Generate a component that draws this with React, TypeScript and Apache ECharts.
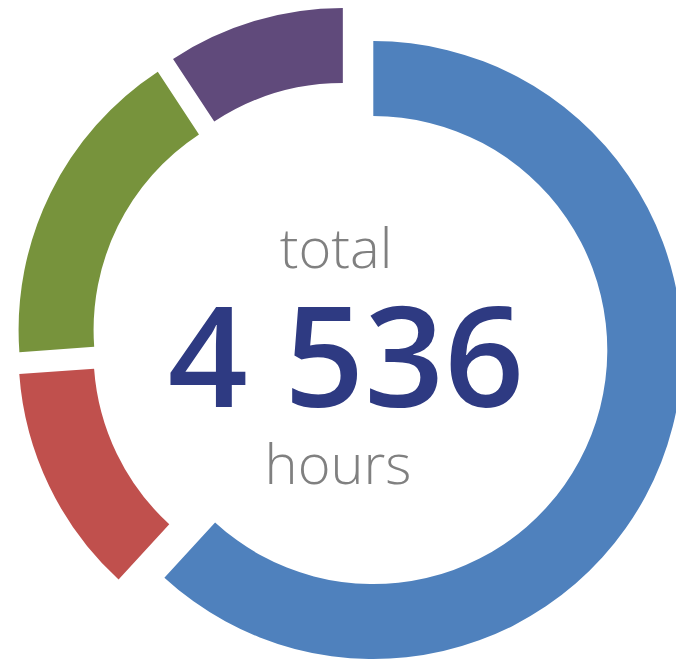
import React, { useEffect, useRef } from "react";
import * as echarts from "echarts";

const categories = ["Blue", "Red", "Green", "Purple"];
const hours = [2804, 546, 766, 420];
const colors = ["#4F81BD", "#C0504D", "#77933C", "#604A7B"];
const totalLabel = "total";
const totalValue = "4 536";
const unitLabel = "hours";

export default function App() {
  const ref = useRef<HTMLDivElement>(null);
  useEffect(() => {
    const chart = echarts.init(ref.current!, undefined, { renderer: "svg" });
    chart.setOption({
      animation: false,
      series: [
        {
          type: "pie",
          center: [350, 341],
          radius: [234, 309],
          startAngle: 90,
          clockwise: true,
          selectedMode: "multiple",
          selectedOffset: 25,
          silent: true,
          label: { show: false },
          labelLine: { show: false },
          emphasis: { disabled: true },
          data: categories.map((name, i) => ({
            name,
            value: hours[i],
            selected: true,
            itemStyle: { color: colors[i] },
          })),
        },
      ],
      graphic: [
        {
          type: "text",
          x: 336,
          y: 246,
          style: {
            text: totalLabel,
            fill: "#808080",
            font: "300 56px 'Open Sans'",
            lineHeight: 48,
            textAlign: "center",
            textVerticalAlign: "middle",
          },
        },
        {
          type: "text",
          x: 346,
          y: 352,
          style: {
            text: totalValue,
            fill: "#2E3A82",
            font: "600 140px 'Open Sans'",
            lineHeight: 104,
            textAlign: "center",
            textVerticalAlign: "middle",
          },
        },
        {
          type: "text",
          x: 338,
          y: 462,
          style: {
            text: unitLabel,
            fill: "#808080",
            font: "300 56px 'Open Sans'",
            lineHeight: 48,
            textAlign: "center",
            textVerticalAlign: "middle",
          },
        },
      ],
    });
    return () => chart.dispose();
  }, []);
  return (
    <div
      ref={ref}
      style={{ position: "fixed", left: 0, top: 0, width: 676, height: 662, background: "#fff" }}
    />
  );
}
